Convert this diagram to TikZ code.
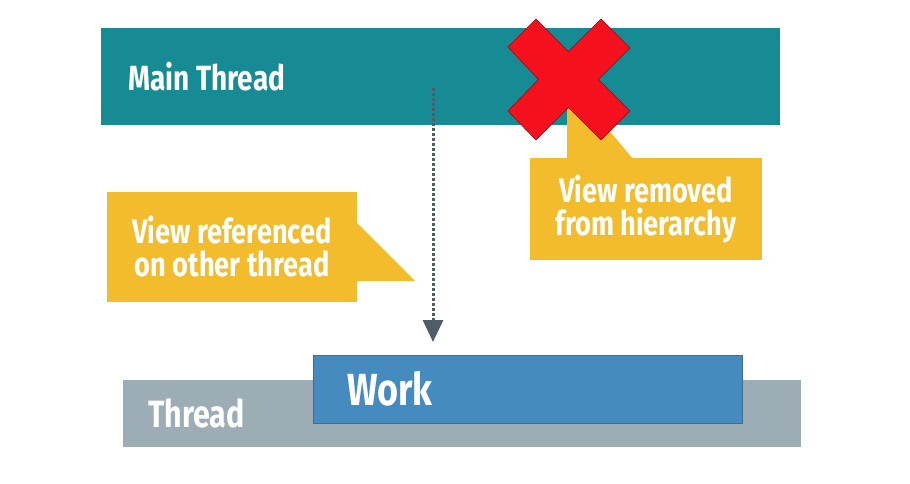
\documentclass[tikz,border=0pt]{standalone}
\usepackage{fontspec}
\setmainfont{Fira Sans}
\newfontfamily\condsf[FakeStretch=0.8]{Fira Sans}
\usetikzlibrary{positioning,arrows.meta}

\definecolor{mainteal}{HTML}{178B94}
\definecolor{calloutyellow}{HTML}{F3BC2D}
\definecolor{threadgray}{HTML}{9DADB5}
\definecolor{workblue}{HTML}{468BBF}
\definecolor{crossred}{HTML}{F5101E}
\definecolor{flowgray}{HTML}{4F5E66}

\begin{document}
\begin{tikzpicture}[x=1pt,y=-1pt,
  bar/.style={inner sep=0pt,outer sep=0pt},
  lbl/.style={text=white,font=\condsf\bfseries\fontsize{35}{36}\selectfont,inner sep=0pt,anchor=west},
  callout/.style={fill=calloutyellow,inner sep=0pt,outer sep=0pt,text=white,align=center,font=\condsf\bfseries\fontsize{34}{33}\selectfont},
  flow/.style={draw=flowgray,line width=3pt,dash pattern=on 3pt off 2pt,-{Triangle[width=20pt,length=22pt]}}]
\useasboundingbox (0,0) rectangle (910,484);

% main thread
\node[bar,fill=mainteal,minimum width=679pt,minimum height=97pt] (main) at (440.5,76.5) {};
\node[lbl,right=27pt of main.west] (mainlbl) {Main Thread};

% view removed
\fill[calloutyellow] (567,159) -- (567,80) -- (633,159) -- cycle;
\node[callout,minimum width=232pt,minimum height=102pt] (removed) at (646,209) {View removed\\from hierarchy};
\filldraw[crossred,draw=crossred!60!black,line width=0.6pt] (508,47) -- (536,19) -- (568.5,51.5) -- (601,19) -- (630,48) -- (598.5,79.5)
  -- (630,111) -- (601,140) -- (568.5,107.5) -- (536,140) -- (508,111) -- (538.5,79.5) -- cycle;

% view referenced
\fill[calloutyellow] (357,223) -- (415,281) -- (357,281) -- cycle;
\node[callout,minimum width=250pt,minimum height=110pt] (referenced) at (232,247) {View referenced\\on other thread};

% background thread
\coordinate (src) at (433,88);
\coordinate (dst) at (433,342);
\draw[flow] (src) -- (dst);
\node[bar,fill=threadgray,minimum width=678pt,minimum height=67pt] (thread) at (462,413.5) {};
\node[lbl,font=\condsf\bfseries\fontsize{38}{40}\selectfont,right=25pt of thread.west] (threadlbl) {Thread};
\node[bar,fill=workblue,draw=workblue!80!black,line width=0.5pt,minimum width=429pt,minimum height=68pt] (work) at (527.5,389) {};
\node[lbl,font=\condsf\bfseries\fontsize{45}{46}\selectfont,right=34pt of work.west] (worklbl) {Work};
\end{tikzpicture}
\end{document}
